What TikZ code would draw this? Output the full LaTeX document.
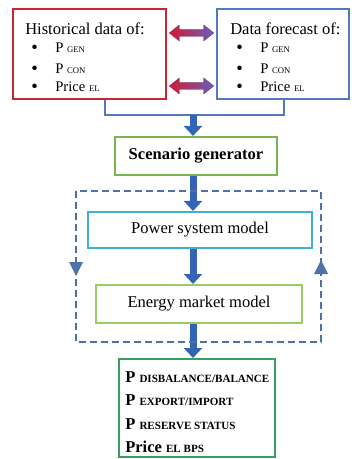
\documentclass[tikz,border=0pt]{standalone}
\usepackage{fontspec}
\setmainfont{Liberation Serif}
\usetikzlibrary{arrows.meta,calc}
\newlength\pxu \setlength\pxu{0.75pt}
\definecolor{redbox}{RGB}{200,38,48}
\definecolor{bluebox}{RGB}{80,122,188}
\definecolor{scengreen}{RGB}{122,180,82}
\definecolor{psblue}{RGB}{62,178,212}
\definecolor{emgreen}{RGB}{155,202,105}
\definecolor{resgreen}{RGB}{52,160,100}
\definecolor{arrowblue}{RGB}{52,100,182}
\definecolor{dashblue}{RGB}{80,112,170}
\definecolor{dblred}{RGB}{215,25,45}
\definecolor{dblblue}{RGB}{100,95,190}
\newcommand\bigtxt{\fontsize{12.4}{14}\selectfont}
\newcommand\itm{\fontsize{11}{13}\selectfont}
\newcommand\sbs[1]{{\fontsize{6.5}{7}\selectfont #1}}
\newcommand\bsbs[1]{{\fontsize{8.3}{9}\selectfont\bfseries #1}}
\newcommand\dblarrow[3]{%
  \path[left color=dblred, right color=dblblue, draw=dblred!40!dblblue!80!black, line width=0.3pt]
    ($(#1)+(0,#3)$) -- ++(10,-8) -- ++(0,4.5) -- ($(#2)+(-10,#3-3.5)$) -- ++(0,-4.5) -- ($(#2)+(0,#3)$)
    -- ++(-10,8) -- ++(0,-4.5) -- ($(#1)+(10,#3+3.5)$) -- ++(0,4.5) -- cycle;}
\begin{document}
\begin{tikzpicture}[x=0.75pt,y=-0.75pt,
  box/.style={draw, inner sep=0pt, line width=2\pxu},
  txt/.style={anchor=base west, inner sep=0pt},
  bul/.style={anchor=base west, inner sep=0pt, font=\fontsize{14}{14}\selectfont},
  bigarrow/.style={draw=arrowblue, line width=5.25pt, -{Triangle[length=7.5pt,width=13.5pt]}},
  dashloop/.style={draw=dashblue, line width=1.5pt, dash pattern=on 5.25pt off 3pt},
  loopmark/.style={fill=dashblue, draw=none}
]
\useasboundingbox (0,0) rectangle (352,459);
% boxes
\node[box, draw=redbox, line width=1.9pt, minimum width=114.75pt, minimum height=67.5pt] (hist) at (89.5,54) {};
\node[box, draw=bluebox, line width=1.9pt, minimum width=99pt, minimum height=67.5pt] (fore) at (283,54) {};
\node[box, draw=scengreen, minimum width=121.5pt, minimum height=28.5pt, font=\bigtxt\bfseries] (scen) at (196,156) {Scenario generator};
\node[box, draw=psblue, minimum width=168pt, minimum height=27pt, font=\bigtxt] (ps) at (200,230) {Power system model};
\node[box, draw=emgreen, minimum width=154.5pt, minimum height=28.5pt, font=\bigtxt] (em) at (199,304) {Energy market model};
\node[box, draw=resgreen, minimum width=117pt, minimum height=73.5pt] (res) at (197,408) {};
% historical texts
\node[txt, font=\bigtxt] (ht) at (25,35) {Historical data of:};
\node[bul] (hb1) at (31,54) {\textbullet};
\node[bul] (hb2) at (31,75) {\textbullet};
\node[bul] (hb3) at (31,93) {\textbullet};
\node[txt, font=\itm] (hi1) at (55,53) {P \sbs{GEN}};
\node[txt, font=\itm] (hi2) at (55,74) {P \sbs{CON}};
\node[txt, font=\itm] (hi3) at (55,92) {Price \sbs{EL}};
% forecast texts
\node[txt, font=\bigtxt] (ft) at (230,35) {Data forecast of:};
\node[bul] (fb1) at (236,54) {\textbullet};
\node[bul] (fb2) at (236,75) {\textbullet};
\node[bul] (fb3) at (236,93) {\textbullet};
\node[txt, font=\itm] (fi1) at (260,53) {P \sbs{GEN}};
\node[txt, font=\itm] (fi2) at (260,74) {P \sbs{CON}};
\node[txt, font=\itm] (fi3) at (260,92) {Price \sbs{EL}};
% result texts
\node[txt, font=\bigtxt\bfseries] (r1) at (125,382) {P \bsbs{DISBALANCE/BALANCE}};
\node[txt, font=\bigtxt\bfseries] (r2) at (125,405) {P \bsbs{EXPORT/IMPORT}};
\node[txt, font=\bigtxt\bfseries] (r3) at (125,429) {P \bsbs{RESERVE STATUS}};
\node[txt, font=\bigtxt\bfseries] (r4) at (125,452) {Price \bsbs{EL BPS}};
% double arrows between the two data boxes
\coordinate (hE) at ($(hist.east)+(2,0)$);
\coordinate (fW) at ($(fore.west)+(-2,0)$);
\dblarrow{hE}{fW}{-21}
\dblarrow{hE}{fW}{32}
% bracket
\coordinate (bl) at (105,115);
\coordinate (br) at (284,115);
\coordinate (bm) at (193,115);
\draw[bluebox, line width=1.5pt] (hist.south -| bl) -- (bl) -- (br) -- (fore.south -| br);
% big arrows
\draw[bigarrow] (bm) -- (scen.north -| bm);
\draw[bigarrow] (scen.south -| bm) -- (ps.north -| bm);
\draw[bigarrow] (ps.south -| bm) -- (em.north -| bm);
\draw[bigarrow] (em.south -| bm) -- (res.north -| bm);
% dashed loop
\coordinate (tl) at (76,191);
\coordinate (tr) at (321,191);
\coordinate (blc) at (76,342);
\coordinate (brc) at (321,342);
\draw[dashloop] (tl) -- (blc) -- (brc) -- (tr) -- cycle;
\fill[loopmark] (69,262) -- (83,262) -- (76,276) -- cycle;
\fill[loopmark] (314,274) -- (328,274) -- (321,260) -- cycle;
\end{tikzpicture}
\end{document}
